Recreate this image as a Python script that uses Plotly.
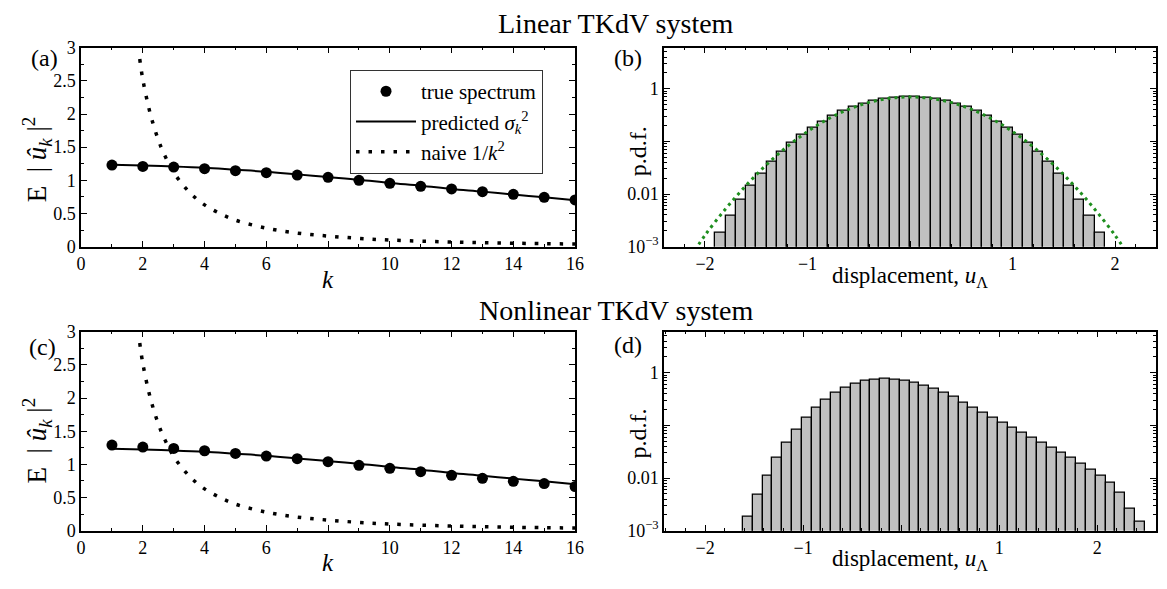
import plotly.graph_objects as go

# ---------------- data ----------------
k = list(range(1, 17))
true_lin = [1.23, 1.21, 1.20, 1.175, 1.145, 1.115, 1.08, 1.045, 1.00, 0.955, 0.91, 0.87, 0.83, 0.79, 0.745, 0.705]
true_non = [1.29, 1.26, 1.24, 1.205, 1.165, 1.125, 1.085, 1.04, 0.985, 0.94, 0.89, 0.835, 0.79, 0.745, 0.71, 0.665]
predicted = [1.235, 1.225, 1.21, 1.19, 1.16, 1.13, 1.09, 1.05, 1.01, 0.96, 0.92, 0.87, 0.83, 0.785, 0.745, 0.70]

naive_k = [1.9, 2.0, 2.2, 2.4, 2.6, 2.8, 3.0, 3.3, 3.6, 4.0, 4.5, 5, 6, 7, 8, 9, 10, 12, 14, 16]
naive_v = [2.83, 2.52, 2.08, 1.75, 1.49, 1.29, 1.12, 0.93, 0.78, 0.63, 0.50, 0.40, 0.28, 0.205, 0.16,
           0.125, 0.10, 0.07, 0.052, 0.04]

# Linear system histogram (bins of 0.1 from -1.9 to 1.9)
pdf_lin = [0.00185, 0.00395, 0.0079, 0.0142, 0.0246, 0.0403, 0.0633, 0.0938, 0.133, 0.184,
           0.241, 0.306, 0.384, 0.454, 0.531, 0.594, 0.646, 0.684, 0.703,
           0.703, 0.684, 0.646, 0.594, 0.531, 0.454, 0.384, 0.306, 0.241, 0.184,
           0.133, 0.0938, 0.0633, 0.0403, 0.0246, 0.0142, 0.0079, 0.00395, 0.00185]
# Gaussian fit (green dotted)
gauss_x = [-2.1, -2.0, -1.8, -1.6, -1.4, -1.2, -1.0, -0.8, -0.6, -0.4, -0.2, 0.0,
           0.2, 0.4, 0.6, 0.8, 1.0, 1.2, 1.4, 1.6, 1.8, 2.0, 2.1]
gauss_y = [0.00085, 0.00165, 0.0052, 0.0145, 0.0361, 0.0792, 0.154, 0.266, 0.406, 0.550, 0.659, 0.700,
           0.659, 0.550, 0.406, 0.266, 0.154, 0.0792, 0.0361, 0.0145, 0.0052, 0.00165, 0.00085]

# Nonlinear system histogram (41 bins of 0.1 starting at -1.615)
pdf_non = [0.00187, 0.00484, 0.0112, 0.0244, 0.0471, 0.0846, 0.140, 0.218, 0.310, 0.415,
           0.519, 0.622, 0.705, 0.746, 0.767, 0.746, 0.716, 0.640, 0.565, 0.498,
           0.421, 0.346, 0.273, 0.221, 0.175, 0.142, 0.115, 0.092, 0.0726, 0.0589,
           0.0477, 0.0382, 0.0305, 0.0241, 0.0187, 0.0144, 0.0110, 0.0080, 0.0052, 0.0026, 0.0015]

lin_start, non_start, bin_w = -1.9, -1.615, 0.1
lin_centers = [lin_start + bin_w * (i + 0.5) for i in range(len(pdf_lin))]
non_centers = [non_start + bin_w * (i + 0.5) for i in range(len(pdf_non))]

# ---------------- layout helpers ----------------
W, H = 1167, 589
FONT = "Liberation Serif"


def X(p):
    return p / W


def Y(p):
    return 1 - p / H


fig = go.Figure()

# ----- panel (a) -----
fig.add_trace(go.Scatter(x=k, y=true_lin, mode="markers", name="true spectrum",
                         marker=dict(color="black", size=11), xaxis="x", yaxis="y"))
fig.add_trace(go.Scatter(x=k, y=predicted, mode="lines", name="predicted <i>σ</i><sub><i>k</i></sub><sup>2</sup>",
                         line=dict(color="black", width=2, shape="spline"), xaxis="x", yaxis="y"))
fig.add_trace(go.Scatter(x=naive_k, y=naive_v, mode="lines", name="naive 1/<i>k</i><sup>2</sup>",
                         line=dict(color="black", width=3.5, dash="3.5px,9px", shape="spline"),
                         xaxis="x", yaxis="y"))
# ----- panel (c) -----
fig.add_trace(go.Scatter(x=k, y=true_non, mode="markers", showlegend=False,
                         marker=dict(color="black", size=11), xaxis="x3", yaxis="y3"))
fig.add_trace(go.Scatter(x=k, y=predicted, mode="lines", showlegend=False,
                         line=dict(color="black", width=2, shape="spline"), xaxis="x3", yaxis="y3"))
fig.add_trace(go.Scatter(x=naive_k, y=naive_v, mode="lines", showlegend=False,
                         line=dict(color="black", width=3.5, dash="3.5px,9px", shape="spline"),
                         xaxis="x3", yaxis="y3"))
# ----- panel (b) -----
fig.add_trace(go.Bar(x=lin_centers, y=pdf_lin, width=bin_w, showlegend=False,
                     marker=dict(color="#c0c0c0", line=dict(color="black", width=1.3)),
                     xaxis="x2", yaxis="y2"))
fig.add_trace(go.Scatter(x=gauss_x, y=gauss_y, mode="lines", showlegend=False,
                         line=dict(color="#1f8f1f", width=3, dash="3px,4px", shape="spline"),
                         xaxis="x2", yaxis="y2"))
# ----- panel (d) -----
fig.add_trace(go.Bar(x=non_centers, y=pdf_non, width=bin_w, showlegend=False,
                     marker=dict(color="#c0c0c0", line=dict(color="black", width=1.3)),
                     xaxis="x4", yaxis="y4"))

base_ax = dict(showline=True, linecolor="black", linewidth=1.5, mirror="allticks",
               ticks="inside", ticklen=6, tickwidth=1.2, tickcolor="black",
               showgrid=False, zeroline=False,
               tickfont=dict(family=FONT, size=18, color="black"))

left_dom = [X(77), X(577)]
right_dom = [X(667), X(1165)]
top_dom = [Y(245), Y(39)]
bot_dom = [Y(539), Y(333)]

kx = dict(base_ax, range=[0, 16], tickmode="array", tickvals=[0, 2, 4, 6, 8, 10, 12, 14, 16],
          ticktext=["0", "2", "4", "6", "", "10", "12", "14", "16"],
          minor=dict(tickmode="linear", tick0=0, dtick=1, ticks="inside", ticklen=3, tickcolor="black"))
ey = dict(base_ax, range=[0, 3], tickmode="linear", tick0=0, dtick=0.5,
          minor=dict(tickmode="linear", tick0=0, dtick=0.25, ticks="inside", ticklen=3, tickcolor="black"))

minor_log = [m * 10 ** e for e in (-3, -2, -1, 0) for m in range(2, 10) if m * 10 ** e < 6]
py = dict(base_ax, type="log", range=[-3, 0.78], tickmode="array",
          tickvals=[0.001, 0.01, 0.1, 1], ticktext=["10<sup>−3</sup>", "0.01", "", "1"],
          minor=dict(tickmode="array", tickvals=minor_log, ticks="inside", ticklen=3, tickcolor="black"))
ux_ticks = dict(tickmode="array", tickvals=[-2, -1, 0, 1, 2], ticktext=["−2", "−1", "", "1", "2"],
                minor=dict(tickmode="linear", tick0=0, dtick=0.2, ticks="inside", ticklen=3, tickcolor="black"))

fig.update_layout(
    width=W, height=H, margin=dict(l=0, r=0, t=0, b=0),
    paper_bgcolor="white", plot_bgcolor="white",
    font=dict(family=FONT, color="black"),
    bargap=0,
    xaxis=dict(kx, domain=left_dom, anchor="y"),
    yaxis=dict(ey, domain=top_dom, anchor="x"),
    xaxis3=dict(kx, domain=left_dom, anchor="y3"),
    yaxis3=dict(ey, domain=bot_dom, anchor="x3"),
    xaxis2=dict(base_ax, **ux_ticks, range=[-2.4, 2.4], domain=right_dom, anchor="y2"),
    yaxis2=dict(py, domain=top_dom, anchor="x2"),
    xaxis4=dict(base_ax, **ux_ticks, range=[-2.42, 2.6], domain=right_dom, anchor="y4"),
    yaxis4=dict(py, domain=bot_dom, anchor="x4"),
    legend=dict(x=X(349), y=Y(62), xanchor="left", yanchor="top", bgcolor="white",
                bordercolor="#333", borderwidth=1.2, font=dict(family=FONT, size=21, color="black"),
                itemwidth=60, tracegroupgap=0),
)


def ann(text, x, y, size, angle=0):
    fig.add_annotation(text=text, x=X(x), y=Y(y), xref="paper", yref="paper",
                       showarrow=False, xanchor="center", yanchor="middle", textangle=angle,
                       font=dict(family=FONT, size=size, color="black"))


ann("Linear TKdV system", 618, 14, 28)
ann("Nonlinear TKdV system", 618, 311, 28)
ann("(a)", 40, 50, 24)
ann("(b)", 631, 50, 24)
ann("(c)", 38, 349, 24)
ann("(d)", 631, 347, 24)
ylab = "E&nbsp;&nbsp;|&nbsp;<i>û</i><sub><i>k</i></sub>&nbsp;|<sup>2</sup>"
ann(ylab, 32, 155, 27, -90)
ann(ylab, 32, 446, 27, -90)
ann("<i>k</i>", 327, 279, 25)
ann("<i>k</i>", 327, 572, 25)
ann("p.d.f.", 641, 146, 24, -90)
ann("p.d.f.", 641, 438, 24, -90)
ann("displacement, <i>u</i><sub>Λ</sub>", 916, 276, 23)
ann("displacement, <i>u</i><sub>Λ</sub>", 916, 569, 23)

fig.write_html("out.html", config={"displayModeBar": False},
               post_script="document.body.style.margin='0';")
